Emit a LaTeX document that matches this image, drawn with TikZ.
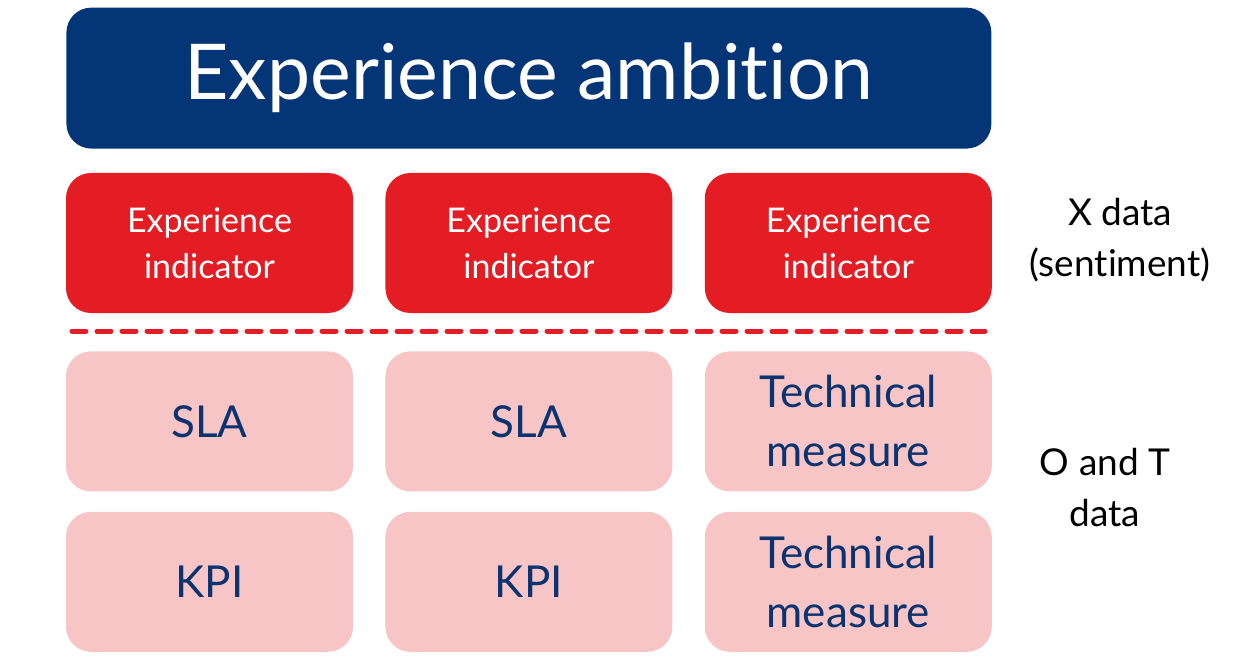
\documentclass[tikz,border=0pt]{standalone}
\usepackage{fontspec}
\setmainfont{Lato}[Ligatures=NoCommon]
\usetikzlibrary{positioning}
\definecolor{ambblue}{HTML}{033577}
\definecolor{indred}{HTML}{E31D23}
\definecolor{mespink}{HTML}{F7C5C6}
\definecolor{mesnavy}{HTML}{0B3370}
\begin{document}
\begin{tikzpicture}[
 x=1pt, y=-1pt, node distance=24pt and 32pt,
 box/.style={rounded corners=25pt, align=center, minimum width=287pt, minimum height=140pt, inner sep=0pt, fill=mespink, text=mesnavy, font=\fontsize{44}{59}\selectfont},
 ind/.style={box, fill=indred, text=white, font=\fontsize{34}{46}\selectfont},
 ambition/.style={box, fill=ambblue, text=white, minimum width=925pt, minimum height=141pt, font=\fontsize{77}{80}\selectfont},
 side/.style={align=center, font=\fontsize{37}{51}\selectfont},
 divider/.style={draw=indred, line width=5pt, line cap=round, dash pattern=on 14pt off 11pt}]
\useasboundingbox (0,0) rectangle (1244,660);
\node[ind] (ind1) at (209.5,243) {Experience\\indicator};
\node[ind, right=of ind1] (ind2) {Experience\\indicator};
\node[ind, right=of ind2] (ind3) {Experience\\indicator};
\node[ambition, above=of ind2] (amb) {Experience ambition};
\node[box, below=38pt of ind1] (sla1) {SLA};
\node[box, below=38pt of ind2] (sla2) {SLA};
\node[box, below=38pt of ind3] (tech1) {Technical\\measure};
\node[box, below=20pt of sla1] (kpi1) {KPI};
\node[box, below=20pt of sla2] (kpi2) {KPI};
\node[box, below=20pt of tech1] (tech2) {Technical\\measure};
% separator between X and O/T data
\coordinate (sepl) at (72,331);
\coordinate (sepr) at (985,331);
\draw[divider] (sepl) -- (sepr);
\node[side] (xdata) at (1120,240) {X data\\(sentiment)};
\node[side] (otdata) at (1105,488) {O and T\\data};
\end{tikzpicture}
\end{document}
